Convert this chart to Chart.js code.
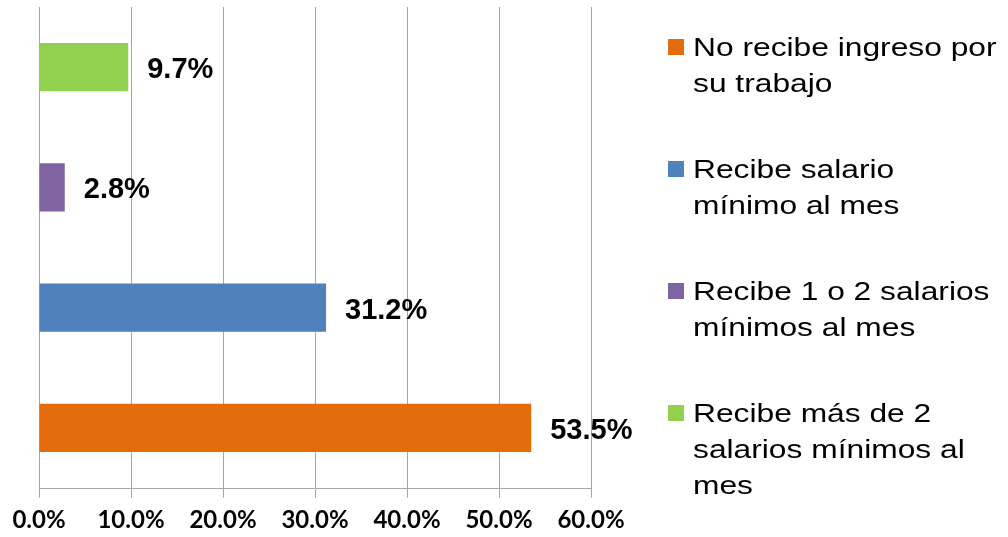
<!DOCTYPE html>
<html>
<head>
<meta charset="utf-8">
<script src="https://cdn.jsdelivr.net/npm/chart.js@4.4.1/dist/chart.umd.min.js"></script>
<style>
  html, body { margin: 0; padding: 0; background: #ffffff; }
  #wrap { width: 1008px; height: 537px; position: relative; }
</style>
</head>
<body>
<div id="wrap"><canvas id="c" width="1008" height="537"></canvas></div>
<script>
// Categories, top to bottom as drawn (each label split into its legend lines)
const categories = [
  ["Recibe más de 2", "salarios mínimos al", "mes"],
  ["Recibe 1 o 2 salarios", "mínimos al mes"],
  ["Recibe salario", "mínimo al mes"],
  ["No recibe ingreso por", "su trabajo"]
];
// Percent values
const values = [9.7, 2.8, 31.2, 53.5];
// Bar colours
const colors = ["#92D050", "#8064A2", "#4F81BD", "#E46C0A"];
// Axis ticks (percent)
const tickValues = [0, 10, 20, 30, 40, 50, 60];

const gridColor = "#a6a6a6";

const valueLabels = {
  id: "valueLabels",
  afterDatasetsDraw(chart) {
    const ctx = chart.ctx;
    const meta = chart.getDatasetMeta(0);
    ctx.save();
    ctx.font = "bold 29px 'Liberation Sans', Arial, sans-serif";
    ctx.fillStyle = "#000000";
    ctx.textAlign = "left";
    ctx.textBaseline = "alphabetic";
    meta.data.forEach((el, i) => {
      const v = chart.data.datasets[0].data[i];
      ctx.fillText(v.toFixed(1) + "%", el.x + 19, el.y + 11);
    });
    ctx.restore();
  }
};

const sideLegend = {
  id: "sideLegend",
  afterDraw(chart) {
    const ctx = chart.ctx;
    const labels = chart.data.labels;
    const bg = chart.data.datasets[0].backgroundColor;
    ctx.save();
    ctx.font = "25px 'Liberation Sans', Arial, sans-serif";
    ctx.fillStyle = "#000000";
    ctx.textBaseline = "alphabetic";
    let y = 56;
    for (let i = labels.length - 1; i >= 0; i--) {
      const lines = labels[i];
      ctx.fillStyle = bg[i];
      ctx.fillRect(668, y - 17, 16, 16);
      ctx.fillStyle = "#000000";
      lines.forEach((ln, k) => {
        ctx.save();
        ctx.translate(693, y + k * 36);
        ctx.scale(1.27, 1);
        ctx.fillText(ln, 0, 0);
        ctx.restore();
      });
      y += lines.length * 36 + 50;
    }
    ctx.restore();
  }
};

new Chart(document.getElementById("c"), {
  type: "bar",
  data: {
    labels: categories,
    datasets: [{
      data: values,
      backgroundColor: colors,
      borderWidth: 0,
      categoryPercentage: 1.0,
      barPercentage: 0.4
    }]
  },
  plugins: [valueLabels, sideLegend],
  options: {
    indexAxis: "y",
    responsive: false,
    animation: false,
    devicePixelRatio: 1,
    layout: { padding: { left: 39, right: 417, top: 7, bottom: 0 } },
    plugins: {
      legend: { display: false },
      tooltip: { enabled: false },
      title: { display: false }
    },
    scales: {
      x: {
        type: "linear",
        min: 0,
        max: 60,
        afterBuildTicks(scale) {
          scale.ticks = tickValues.map(v => ({ value: v }));
        },
        afterFit(scale) { scale.height = 49; },
        grid: {
          display: true,
          color: gridColor,
          lineWidth: 1,
          drawTicks: true,
          tickLength: 10,
          tickColor: gridColor
        },
        border: { display: true, color: gridColor, width: 1 },
        ticks: {
          padding: 8,
          color: "#000000",
          font: { family: "Lato, 'Liberation Sans', sans-serif", size: 24, weight: "bold" },
          callback: (v) => Number(v).toFixed(1) + "%",
          maxRotation: 0,
          autoSkip: false
        }
      },
      y: {
        display: false,
        grid: { display: false },
        border: { display: false }
      }
    }
  }
});
</script>
</body>
</html>
